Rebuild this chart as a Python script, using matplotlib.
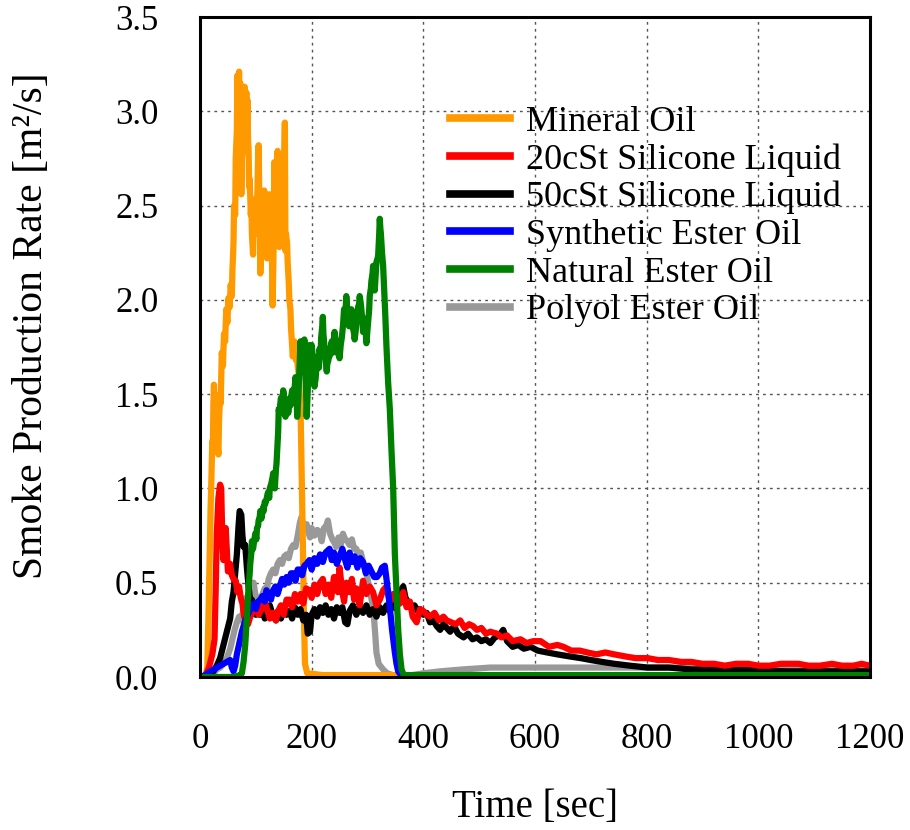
import matplotlib
matplotlib.use("Agg")
import matplotlib.pyplot as plt

plt.rcParams['font.family'] = ['Liberation Serif', 'DejaVu Serif']

# ---------------- data ----------------
# (time [s], smoke production rate [m2/s]) pairs
mineral = [(0, 0), (10, 0), (13, 0.05), (15, 0.3), (17, 0.6), (19, 0.9), (20, 1.0), (22, 1.25), (23, 1.2),
           (24, 1.45), (25, 1.55), (26, 1.4), (28, 1.48), (29, 1.3), (30, 1.40), (31, 1.25), (33, 1.18),
           (34, 1.35), (36, 1.5), (37, 1.45), (39, 1.72), (41, 1.65), (43, 1.82), (45, 1.78), (47, 1.95),
           (49, 1.88), (51, 2.01), (53, 1.96), (55, 2.08), (57, 2.02), (58, 2.15), (60, 2.3), (61, 2.5),
           (63, 2.45), (64, 2.75), (66, 2.9), (67, 3.19), (68, 3.05), (70, 3.21), (71, 3.0), (72, 3.15),
           (73, 2.9), (74, 2.56), (75, 2.75), (77, 2.8), (78, 2.95), (80, 3.13), (81, 2.95), (83, 3.1),
           (84, 2.9), (85, 3.06), (86, 2.85), (87, 2.8), (88, 2.6), (89, 2.64), (91, 2.45), (92, 2.5),
           (93, 2.35), (95, 2.24), (96, 2.4), (98, 2.35), (99, 2.5), (101, 2.54), (102, 2.4), (103, 2.6),
           (104, 2.75), (105, 2.82), (106, 2.6), (107, 2.5), (108, 2.14), (110, 2.35), (111, 2.3),
           (113, 2.5), (115, 2.58), (116, 2.4), (118, 2.45), (119, 2.3), (120, 2.22), (121, 2.35),
           (122, 2.4), (123, 2.3), (124, 2.56), (126, 2.45), (127, 2.4), (129, 2.2), (130, 1.97),
           (131, 2.15), (132, 2.3), (133, 2.73), (135, 2.55), (136, 2.6), (138, 2.7), (139, 2.79),
           (140, 2.65), (141, 2.6), (142, 2.28), (143, 2.4), (144, 2.5), (146, 2.77), (147, 2.6),
           (149, 2.7), (150, 2.6), (152, 2.94), (153, 2.26), (154, 2.35), (156, 2.3), (157, 2.2),
           (159, 2.09), (160, 2.0), (162, 1.95), (163, 1.85), (165, 1.76), (166, 1.7), (168, 1.72),
           (169, 1.78), (171, 1.75), (172, 1.68), (174, 1.72), (175, 1.65), (177, 1.6), (178, 1.52),
           (180, 1.44), (182, 1.1), (184, 0.75), (186, 0.35), (188, 0.07), (192, 0.02), (220, 0.01),
           (300, 0.01), (1200, 0.01)]

sil20 = [(0, 0.0), (10, 0.01), (16, 0.05), (22, 0.12), (26, 0.2), (28, 0.45), (30, 0.75), (33, 0.95),
         (36, 1.02), (38, 1.0), (40, 0.72), (42, 0.62), (44, 0.7), (46, 0.79), (48, 0.68), (50, 0.56),
         (54, 0.6), (57, 0.54), (60, 0.52), (64, 0.51), (67, 0.45), (70, 0.48), (73, 0.42), (76, 0.39),
         (79, 0.32), (82, 0.3), (86, 0.28), (90, 0.32), (95, 0.35), (100, 0.38), (105, 0.33), (110, 0.36),
         (115, 0.41), (120, 0.36), (125, 0.31), (130, 0.34), (136, 0.30), (140, 0.35), (145, 0.38),
         (150, 0.33), (155, 0.41), (160, 0.41), (165, 0.37), (170, 0.44), (175, 0.40), (180, 0.44),
         (185, 0.39), (190, 0.47), (196, 0.46), (200, 0.42), (205, 0.49), (210, 0.44), (215, 0.50),
         (220, 0.52), (225, 0.44), (230, 0.49), (235, 0.42), (240, 0.53), (244, 0.53), (247, 0.45),
         (250, 0.58), (254, 0.47), (258, 0.40), (262, 0.50), (268, 0.45), (272, 0.52), (276, 0.41),
         (280, 0.47), (286, 0.38), (292, 0.51), (298, 0.44), (304, 0.48), (310, 0.45), (316, 0.38),
         (322, 0.41), (328, 0.46), (334, 0.48), (340, 0.40), (346, 0.44), (352, 0.40), (358, 0.39),
         (364, 0.45), (370, 0.37), (376, 0.40), (381, 0.32), (388, 0.29), (394, 0.36), (400, 0.35),
         (406, 0.33), (412, 0.32), (420, 0.34), (428, 0.30), (436, 0.32), (442, 0.30), (450, 0.29),
         (458, 0.28), (466, 0.30), (474, 0.26), (482, 0.28), (489, 0.27), (496, 0.25), (504, 0.26),
         (512, 0.23), (520, 0.24), (532, 0.23), (540, 0.21), (550, 0.22), (560, 0.19), (574, 0.20),
         (585, 0.18), (597, 0.19), (610, 0.19), (625, 0.16), (640, 0.17), (651, 0.16), (665, 0.14),
         (680, 0.14), (694, 0.13), (710, 0.12), (726, 0.13), (742, 0.12), (760, 0.11), (780, 0.10),
         (802, 0.10), (820, 0.09), (840, 0.09), (862, 0.08), (880, 0.08), (900, 0.07), (921, 0.07),
         (940, 0.06), (960, 0.07), (982, 0.07), (1000, 0.06), (1020, 0.06), (1040, 0.07), (1060, 0.07),
         (1072, 0.07), (1090, 0.06), (1110, 0.06), (1132, 0.07), (1150, 0.06), (1170, 0.06),
         (1185, 0.07), (1200, 0.06)]

sil50 = [(0, 0.0), (15, 0.01), (24, 0.03), (30, 0.06), (36, 0.10), (42, 0.17), (48, 0.24), (54, 0.31),
         (57, 0.40), (60, 0.45), (63, 0.55), (66, 0.65), (69, 0.80), (71, 0.88), (74, 0.86), (76, 0.75),
         (78, 0.69), (81, 0.70), (84, 0.58), (87, 0.48), (90, 0.40), (93, 0.41), (97, 0.36), (100, 0.33),
         (104, 0.38), (108, 0.33), (112, 0.36), (116, 0.31), (120, 0.34), (125, 0.38), (130, 0.33),
         (136, 0.30), (140, 0.35), (145, 0.31), (150, 0.36), (155, 0.33), (160, 0.35), (165, 0.31),
         (170, 0.37), (175, 0.33), (180, 0.36), (185, 0.30), (190, 0.33), (193, 0.23), (197, 0.24),
         (200, 0.33), (205, 0.36), (210, 0.32), (215, 0.37), (220, 0.34), (225, 0.38), (230, 0.33),
         (235, 0.36), (240, 0.31), (245, 0.37), (250, 0.34), (255, 0.37), (260, 0.29), (264, 0.28),
         (268, 0.35), (274, 0.38), (280, 0.33), (286, 0.37), (292, 0.34), (298, 0.38), (304, 0.33),
         (310, 0.36), (316, 0.32), (322, 0.37), (328, 0.34), (334, 0.38), (340, 0.35), (346, 0.39),
         (352, 0.36), (356, 0.42), (360, 0.46), (364, 0.48), (368, 0.42), (372, 0.40), (378, 0.37),
         (384, 0.38), (390, 0.35), (394, 0.36), (400, 0.33), (406, 0.34), (412, 0.29), (418, 0.30),
         (424, 0.27), (430, 0.25), (436, 0.28), (442, 0.26), (448, 0.24), (455, 0.27), (462, 0.23),
         (472, 0.21), (480, 0.23), (488, 0.20), (496, 0.21), (504, 0.19), (512, 0.20), (520, 0.18),
         (528, 0.21), (536, 0.22), (543, 0.25), (550, 0.19), (560, 0.16), (570, 0.17), (580, 0.15),
         (592, 0.16), (605, 0.14), (622, 0.13), (640, 0.12), (660, 0.11), (682, 0.10), (700, 0.09),
         (720, 0.08), (742, 0.07), (770, 0.06), (802, 0.05), (840, 0.05), (880, 0.04), (950, 0.04),
         (1050, 0.03), (1200, 0.03)]

synthetic = [(0, 0.0), (10, 0.01), (18, 0.03), (25, 0.04), (30, 0.05), (36, 0.06), (42, 0.07), (48, 0.08),
             (54, 0.09), (57, 0.05), (60, 0.03), (63, 0.06), (66, 0.12), (69, 0.16), (72, 0.20), (75, 0.24),
             (78, 0.27), (81, 0.30), (84, 0.32), (87, 0.34), (90, 0.36), (93, 0.38), (96, 0.39), (100, 0.36),
             (104, 0.40), (108, 0.41), (112, 0.43), (116, 0.40), (119, 0.46), (123, 0.44), (127, 0.41),
             (131, 0.46), (135, 0.48), (139, 0.44), (143, 0.48), (147, 0.52), (151, 0.49), (155, 0.53),
             (159, 0.50), (163, 0.55), (167, 0.55), (171, 0.51), (175, 0.57), (179, 0.57), (183, 0.54),
             (187, 0.59), (191, 0.60), (196, 0.62), (200, 0.57), (205, 0.63), (210, 0.60), (215, 0.65),
             (220, 0.61), (225, 0.66), (232, 0.68), (236, 0.62), (240, 0.66), (245, 0.60), (250, 0.64),
             (255, 0.68), (260, 0.62), (264, 0.58), (268, 0.66), (272, 0.61), (277, 0.64), (282, 0.58),
             (287, 0.63), (292, 0.61), (297, 0.55), (302, 0.59), (307, 0.56), (312, 0.53), (317, 0.53),
             (322, 0.55), (326, 0.58), (331, 0.59), (334, 0.52), (337, 0.45), (340, 0.37), (344, 0.25),
             (349, 0.13), (352, 0.07), (355, 0.03), (360, 0.01), (1200, 0.01)]

natural = [(0, 0), (60, 0), (72, 0.01), (75, 0.02), (78, 0.08), (81, 0.17), (84, 0.32), (87, 0.48),
           (89, 0.55), (90, 0.60), (92, 0.66), (93, 0.72), (95, 0.68), (96, 0.70), (98, 0.74), (99, 0.76),
           (101, 0.73), (102, 0.79), (104, 0.80), (105, 0.83), (107, 0.85), (108, 0.88), (110, 0.84),
           (111, 0.86), (113, 0.90), (114, 0.88), (116, 0.93), (117, 0.92), (119, 0.94), (121, 0.97),
           (122, 0.98), (124, 0.95), (125, 1.0), (127, 1.02), (128, 1.03), (130, 1.06), (131, 1.08),
           (133, 1.02), (134, 1.0), (136, 1.1), (137, 1.13), (139, 1.25), (140, 1.3), (141, 1.42),
           (142, 1.40), (144, 1.45), (145, 1.48), (147, 1.40), (148, 1.44), (149, 1.52), (150, 1.50),
           (152, 1.42), (153, 1.38), (155, 1.43), (156, 1.45), (158, 1.40), (159, 1.42), (161, 1.48),
           (162, 1.44), (164, 1.50), (165, 1.52), (167, 1.46), (168, 1.50), (170, 1.55), (171, 1.59),
           (173, 1.50), (174, 1.38), (176, 1.48), (177, 1.55), (179, 1.70), (180, 1.78), (182, 1.66),
           (183, 1.70), (184, 1.62), (185, 1.74), (187, 1.79), (188, 1.68), (189, 1.60), (190, 1.50),
           (191, 1.38), (193, 1.52), (194, 1.62), (195, 1.70), (196, 1.76), (198, 1.70), (199, 1.64),
           (200, 1.76), (202, 1.70), (203, 1.65), (204, 1.58), (205, 1.54), (207, 1.58), (208, 1.62),
           (210, 1.66), (211, 1.70), (213, 1.64), (214, 1.74), (216, 1.70), (217, 1.80), (219, 1.86),
           (220, 1.91), (221, 1.82), (223, 1.75), (225, 1.68), (227, 1.62), (228, 1.66), (230, 1.68),
           (231, 1.74), (232, 1.70), (234, 1.75), (236, 1.78), (238, 1.72), (241, 1.83), (243, 1.78),
           (245, 1.75), (247, 1.72), (250, 1.69), (252, 1.76), (254, 1.80), (256, 1.86), (258, 1.95),
           (260, 1.90), (262, 2.02), (264, 1.94), (265, 1.88), (267, 1.86), (268, 1.92), (270, 1.90),
           (271, 1.95), (273, 1.90), (274, 1.85), (276, 1.82), (277, 1.79), (279, 1.84), (280, 1.88),
           (282, 1.92), (283, 1.96), (285, 1.98), (286, 2.02), (288, 1.98), (289, 1.95), (291, 1.88),
           (292, 1.83), (294, 1.88), (295, 1.90), (297, 1.82), (298, 1.77), (300, 1.84), (301, 1.88),
           (303, 1.95), (304, 2.02), (306, 2.06), (307, 2.10), (309, 2.14), (310, 2.18), (312, 2.12),
           (313, 2.05), (315, 2.15), (316, 2.20), (318, 2.22), (319, 2.23), (321, 2.35), (322, 2.43),
           (323, 2.38), (324, 2.35), (326, 2.25), (328, 2.18), (330, 2.05), (332, 1.91), (334, 1.75),
           (337, 1.56), (340, 1.42), (343, 1.20), (346, 1.0), (349, 0.65), (352, 0.45), (355, 0.25),
           (358, 0.12), (361, 0.04), (365, 0.01), (1200, 0.01)]

polyol = [(0, 0.0), (15, 0.01), (24, 0.02), (30, 0.04), (36, 0.05), (42, 0.07), (48, 0.10), (54, 0.15),
          (58, 0.2), (62, 0.25), (66, 0.29), (70, 0.32), (74, 0.30), (78, 0.36), (82, 0.42), (86, 0.40),
          (90, 0.45), (93, 0.49), (96, 0.50), (99, 0.44), (102, 0.40), (105, 0.42), (108, 0.39),
          (112, 0.44), (116, 0.47), (119, 0.45), (123, 0.52), (127, 0.55), (131, 0.57), (135, 0.55),
          (139, 0.60), (143, 0.62), (147, 0.60), (151, 0.64), (155, 0.65), (159, 0.63), (163, 0.68),
          (167, 0.70), (171, 0.69), (175, 0.75), (179, 0.82), (182, 0.85), (185, 0.79), (188, 0.81),
          (191, 0.81), (194, 0.77), (197, 0.74), (200, 0.79), (205, 0.75), (210, 0.78), (214, 0.77),
          (218, 0.72), (222, 0.79), (226, 0.80), (229, 0.83), (233, 0.76), (237, 0.73), (241, 0.71),
          (244, 0.69), (248, 0.74), (252, 0.70), (256, 0.76), (260, 0.73), (264, 0.72), (268, 0.70),
          (272, 0.73), (276, 0.68), (280, 0.68), (284, 0.64), (288, 0.66), (292, 0.61), (296, 0.58),
          (300, 0.52), (304, 0.46), (308, 0.40), (311, 0.34), (314, 0.22), (316, 0.13), (320, 0.07),
          (328, 0.04), (335, 0.02), (345, 0.01), (380, 0.01), (400, 0.02), (430, 0.03), (470, 0.04),
          (520, 0.05), (600, 0.05), (700, 0.05), (800, 0.05), (900, 0.05), (1000, 0.04), (1100, 0.04),
          (1200, 0.04)]

labels = ["Mineral Oil", "20cSt Silicone Liquid", "50cSt Silicone Liquid",
          "Synthetic Ester Oil", "Natural Ester Oil", "Polyol Ester Oil"]
colors = ["#ff9900", "#ff0000", "#000000", "#0000ff", "#008000", "#999999"]
zorders = [3, 5, 4, 6, 7, 2]

x_ticks = [0, 200, 400, 600, 800, 1000, 1200]
y_ticks = [0.0, 0.5, 1.0, 1.5, 2.0, 2.5, 3.0, 3.5]

series = [mineral, sil20, sil50, synthetic, natural, polyol]

# ---------------- figure ----------------
fig = plt.figure(figsize=(9.1, 8.3), dpi=100)
ax = fig.add_axes([200 / 910, 1 - 677 / 830, 670 / 910, 660 / 830])

for data, lab, c, z in zip(series, labels, colors, zorders):
    t, v = zip(*data)
    ax.plot(t, v, color=c, lw=4.5, label=lab, zorder=z, solid_joinstyle='round')

ax.set_xlim(0, 1200)
ax.set_ylim(0, 3.5)
ax.set_xticks(x_ticks)
ax.set_yticks(y_ticks)
ax.set_xticklabels([str(v) for v in x_ticks])
ax.set_yticklabels([f"{v:.1f}" for v in y_ticks])
ax.tick_params(axis='both', length=0, labelsize=25)
ax.tick_params(axis='x', pad=33)
ax.tick_params(axis='y', pad=30)

ax.grid(True, color='#555555', linestyle=(0, (2, 3)), linewidth=1.0, zorder=0)
ax.set_axisbelow(True)
for s in ax.spines.values():
    s.set_linewidth(2.2)
    s.set_color('black')
    s.set_zorder(10)

ax.set_xlabel("Time [sec]", fontsize=28, labelpad=24)
ax.set_ylabel("Smoke Production Rate [m²/s]", fontsize=30)
ax.yaxis.set_label_coords(-0.222, 0.533)

leg = ax.legend(loc='upper left', bbox_to_anchor=(0.373, 0.866), frameon=False, fontsize=26,
                handlelength=1.67, handletextpad=0.44, labelspacing=0.12, borderaxespad=0,
                borderpad=0)
for h in leg.get_lines():
    h.set_linewidth(5.5)

fig.savefig("out.png", dpi=100)
